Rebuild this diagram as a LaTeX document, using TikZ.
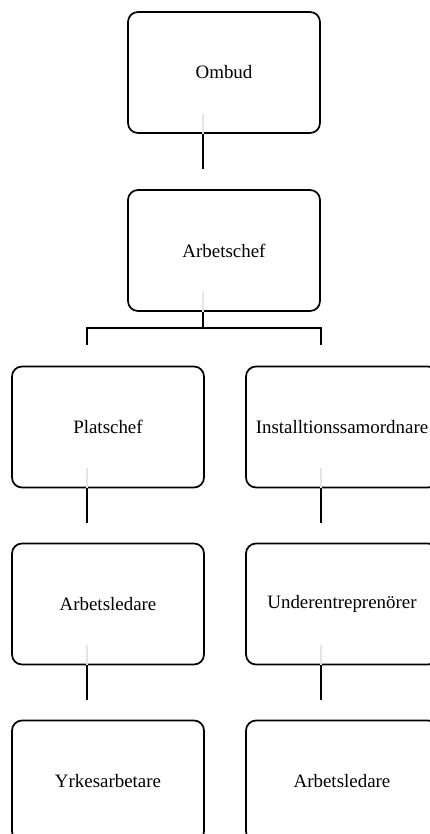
\documentclass[tikz,border=0pt]{standalone}
\usepackage{fontspec}
\setmainfont{Liberation Serif}
\usetikzlibrary{calc}
\tikzset{orgbox/.style={draw, line width=1.3pt, rounded corners=7.5pt, minimum width=144pt, minimum height=90.75pt, inner sep=0pt, font=\fontsize{14.2}{17}\selectfont}}
\tikzset{orgline/.style={draw, line width=1.3pt}}
\tikzset{ghostline/.style={draw=black!10, line width=1.4pt}}

\begin{document}
\begin{tikzpicture}[x=0.75pt, y=-0.75pt]
\useasboundingbox (0,0) rectangle (429,834);
\node[orgbox] (ombud) at (224,72.5) {Ombud};
\node[orgbox] (chef) at (224,250.5) {Arbetschef};
\node[orgbox] (plats) at (108,427) {Platschef};
\node[orgbox] (inst) at (342,427) {Installtionssamordnare};
\node[orgbox] (ledL) at (108,604) {Arbetsledare};
\node[orgbox] (under) at (342,604) {Underentreprenörer};
\node[orgbox] (yrke) at (108,781) {Yrkesarbetare};
\node[orgbox] (ledR) at (342,781) {Arbetsledare};
% stems under each box
\foreach \n in {ombud,chef,plats,inst,ledL,under} {
  \coordinate (\n-s) at ($(\n.south)+(-21,0)$);
  \coordinate (\n-g) at ($(\n.south)+(-21,-20)$);
  \draw[ghostline] (\n-g) -- (\n-s);
}
\foreach \n in {ombud,plats,inst,ledL,under} {
  \coordinate (\n-e) at ($(\n-s)+(0,35)$);
  \draw[orgline] (\n-s) -- (\n-e);
}
% fork under Arbetschef
\coordinate (fork) at ($(chef-s)+(0,17)$);
\coordinate (plats-f) at ($(plats.north)+(-21,-38)$);
\coordinate (plats-n) at ($(plats.north)+(-21,-21)$);
\coordinate (inst-f) at ($(inst.north)+(-21,-38)$);
\coordinate (inst-n) at ($(inst.north)+(-21,-21)$);
\draw[orgline] (chef-s) -- (fork);
\draw[orgline] (plats-n) -- (plats-f) -- (inst-f) -- (inst-n);
\end{tikzpicture}
\end{document}
